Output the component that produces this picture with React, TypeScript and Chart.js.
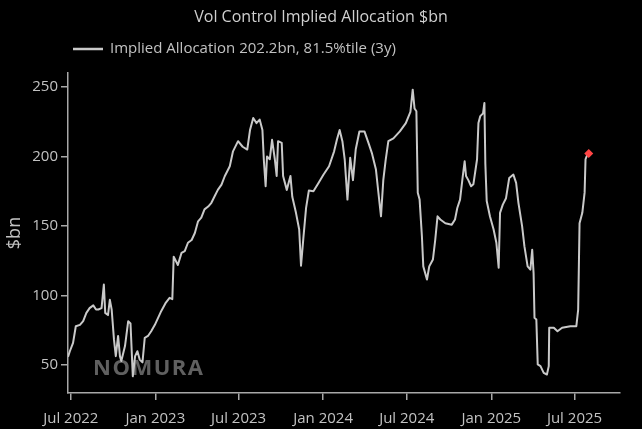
import { useEffect, useRef } from "react";
import { Chart, registerables } from "chart.js";

Chart.register(...registerables);

const chartTitle = "Vol Control Implied Allocation $bn";
const seriesLabel = "Implied Allocation 202.2bn, 81.5%tile (3y)";
const yAxisTitle = "$bn";
const watermark = "NOMURA";

const dates = [
  "2022-06-25", "2022-06-29", "2022-07-06", "2022-07-12", "2022-07-21", "2022-07-28", "2022-08-04", "2022-08-11",
  "2022-08-19", "2022-08-25", "2022-08-30", "2022-09-06", "2022-09-11", "2022-09-14", "2022-09-20", "2022-09-24",
  "2022-09-28", "2022-10-03", "2022-10-07", "2022-10-12", "2022-10-16", "2022-10-19", "2022-10-27", "2022-11-03",
  "2022-11-08", "2022-11-13", "2022-11-18", "2022-11-23", "2022-11-28", "2022-12-04", "2022-12-09", "2022-12-16",
  "2022-12-23", "2022-12-31", "2023-01-07", "2023-01-14", "2023-01-24", "2023-02-01", "2023-02-07", "2023-02-10",
  "2023-02-19", "2023-02-27", "2023-03-06", "2023-03-13", "2023-03-21", "2023-03-28", "2023-04-04", "2023-04-11",
  "2023-04-18", "2023-04-26", "2023-05-03", "2023-05-10", "2023-05-17", "2023-05-25", "2023-06-01", "2023-06-12",
  "2023-06-19", "2023-06-30", "2023-07-10", "2023-07-20", "2023-07-26", "2023-08-02", "2023-08-09", "2023-08-16",
  "2023-08-22", "2023-08-25", "2023-08-29", "2023-09-01", "2023-09-07", "2023-09-12", "2023-09-18", "2023-09-22",
  "2023-09-25", "2023-10-03", "2023-10-06", "2023-10-14", "2023-10-22", "2023-10-26", "2023-11-03", "2023-11-10",
  "2023-11-14", "2023-11-19", "2023-11-25", "2023-12-01", "2023-12-11", "2023-12-22", "2024-01-02", "2024-01-14",
  "2024-01-25", "2024-01-31", "2024-02-06", "2024-02-12", "2024-02-17", "2024-02-23", "2024-02-29", "2024-03-06",
  "2024-03-12", "2024-03-20", "2024-03-31", "2024-04-10", "2024-04-16", "2024-04-25", "2024-04-30", "2024-05-06",
  "2024-05-11", "2024-05-16", "2024-05-22", "2024-06-02", "2024-06-16", "2024-06-29", "2024-07-09", "2024-07-14",
  "2024-07-18", "2024-07-22", "2024-07-25", "2024-07-29", "2024-08-03", "2024-08-06", "2024-08-14", "2024-08-19",
  "2024-08-27", "2024-09-01", "2024-09-06", "2024-09-12", "2024-09-23", "2024-10-07", "2024-10-14", "2024-10-19",
  "2024-10-25", "2024-10-31", "2024-11-04", "2024-11-07", "2024-11-12", "2024-11-18", "2024-11-23", "2024-12-01",
  "2024-12-04", "2024-12-08", "2024-12-14", "2024-12-17", "2024-12-19", "2024-12-22", "2024-12-29", "2025-01-06",
  "2025-01-12", "2025-01-17", "2025-01-20", "2025-01-26", "2025-02-02", "2025-02-09", "2025-02-18", "2025-02-24",
  "2025-03-01", "2025-03-09", "2025-03-14", "2025-03-21", "2025-03-27", "2025-03-31", "2025-04-03", "2025-04-05",
  "2025-04-09", "2025-04-12", "2025-04-18", "2025-04-25", "2025-05-02", "2025-05-06", "2025-05-07", "2025-05-17",
  "2025-05-25", "2025-06-04", "2025-06-22", "2025-07-05", "2025-07-09", "2025-07-12", "2025-07-18", "2025-07-23",
  "2025-07-25", "2025-07-29", "2025-08-01",
];

const allocation = [
  56, 60, 66, 78, 79, 81.6, 87.6, 91,
  93, 90, 90, 91, 108, 87.6, 86, 97,
  90, 68.5, 56.5, 71, 56.5, 53, 63.7, 81.6,
  80, 42, 56.5, 60, 54, 52, 69.7, 71,
  74.4, 79, 84, 89, 95, 98.4, 97.5, 128,
  122, 130.7, 132, 138, 140, 145, 153.4, 156,
  162, 164, 166.7, 171.4, 176, 179.8, 185.8, 193,
  203.7, 211, 207, 205, 219, 227.7, 224, 226.5,
  219, 198, 178.6, 200, 198, 212, 198, 186,
  211, 209.8, 186, 176, 186, 171, 159.5, 147.5,
  121.5, 141, 163, 175.5, 175, 181, 187, 193,
  203.7, 212, 219, 211, 198, 169, 199, 183,
  205, 218, 218, 208.5, 202.6, 190.6, 175, 157,
  183, 197, 211, 213, 218, 224, 232, 248,
  234.5, 232.5, 174, 169, 142.7, 121, 111.6, 121,
  126, 140, 157, 154.7, 152, 151, 154.7, 163,
  169, 186, 196.5, 186, 183, 178.6, 180, 198,
  224, 229, 231, 238.5, 195, 168, 157, 147.5,
  138, 120, 159.5, 165.4, 170, 184.6, 187, 181,
  166.7, 150, 135.5, 121, 118.7, 133, 116, 84,
  82.8, 50.5, 49.3, 44.5, 43.3, 49.3, 76.9, 76.9,
  74.4, 76.9, 78, 78, 90, 152, 159.5, 174,
  198, 201.4, 202.2,
];

const xTickDates = ["2022-07-01", "2023-01-01", "2023-07-01", "2024-01-01", "2024-07-01", "2025-01-01", "2025-07-01"];
const xTickLabels = ["Jul 2022", "Jan 2023", "Jul 2023", "Jan 2024", "Jul 2024", "Jan 2025", "Jul 2025"];
const yTicks = [50, 100, 150, 200, 250];
const xMinDate = "2022-06-25";
const xMaxDate = "2025-10-08";
const yMin = 30;
const yMax = 260;

const toMs = (s: string) => Date.parse(s + "T00:00:00Z");

const FONT = "'Open Sans', 'Noto Sans', sans-serif";
const LINE_COLOR = "#c9c9c9";
const TEXT_COLOR = "#c2c2c2";
const AXIS_COLOR = "#a8a8a8";

const headerPlugin = {
  id: "header",
  beforeDatasetsDraw(chart: any) {
    const { ctx, chartArea } = chart;
    ctx.save();
    ctx.font = `bold 22px ${FONT}`;
    (ctx as any).letterSpacing = "1.5px";
    ctx.fillStyle = "#606060";
    ctx.textAlign = "left";
    ctx.textBaseline = "middle";
    ctx.fillText(watermark, chartArea.left + 25, chartArea.bottom - 24);
    ctx.restore();
  },
  afterDraw(chart: any) {
    const { ctx } = chart;
    ctx.save();
    ctx.fillStyle = "#cfcfcf";
    ctx.font = `16px ${FONT}`;
    ctx.textAlign = "center";
    ctx.textBaseline = "middle";
    ctx.fillText(chartTitle, chart.width / 2, 17);

    ctx.strokeStyle = LINE_COLOR;
    ctx.lineWidth = 2.5;
    ctx.beginPath();
    ctx.moveTo(73, 49);
    ctx.lineTo(103, 49);
    ctx.stroke();

    ctx.fillStyle = TEXT_COLOR;
    ctx.font = `15px ${FONT}`;
    ctx.textAlign = "left";
    ctx.fillText(seriesLabel, 110, 49);
    ctx.restore();
  },
};

export default function App() {
  const canvasRef = useRef<HTMLCanvasElement | null>(null);

  useEffect(() => {
    document.body.style.margin = "0";
    document.body.style.background = "#000";
    const canvas = canvasRef.current;
    if (!canvas) return;
    const lastIndex = allocation.length - 1;
    const chart = new Chart(canvas, {
      type: "line",
      data: {
        datasets: [
          {
            label: seriesLabel,
            data: dates.map((d, i) => ({ x: toMs(d), y: allocation[i] })),
            borderColor: LINE_COLOR,
            borderWidth: 2,
            tension: 0,
            borderJoinStyle: "round",
            pointRadius: (c: any) => (c.dataIndex === lastIndex ? 4.5 : 0),
            pointStyle: "rectRot",
            pointBackgroundColor: "#ff4545",
            pointBorderColor: "#ff4545",
            pointBorderWidth: 0,
            fill: false,
          } as any,
        ],
      },
      options: {
        responsive: false,
        animation: false,
        events: [],
        layout: { padding: { top: 73, right: 22, left: 0, bottom: 0 } },
        plugins: {
          legend: { display: false },
          title: { display: false },
          tooltip: { enabled: false },
        },
        scales: {
          x: {
            type: "linear",
            min: toMs(xMinDate),
            max: toMs(xMaxDate),
            afterBuildTicks: (s: any) => {
              s.ticks = xTickDates.map((d) => ({ value: toMs(d) }));
            },
            afterFit: (s: any) => {
              s.height = 36;
            },
            grid: {
              display: true,
              drawOnChartArea: false,
              drawTicks: true,
              tickLength: 7,
              color: AXIS_COLOR,
              lineWidth: 1.5,
            },
            border: { display: true, color: AXIS_COLOR, width: 1.5 },
            ticks: {
              autoSkip: false,
              maxRotation: 0,
              padding: 10,
              color: TEXT_COLOR,
              font: { family: FONT, size: 15 },
              callback: (v: any) => {
                const i = xTickDates.findIndex((d) => toMs(d) === v);
                return i >= 0 ? xTickLabels[i] : "";
              },
            },
          },
          y: {
            type: "linear",
            min: yMin,
            max: yMax,
            afterBuildTicks: (s: any) => {
              s.ticks = yTicks.map((v) => ({ value: v }));
            },
            afterFit: (s: any) => {
              s.width = 68;
            },
            grid: {
              display: true,
              drawOnChartArea: false,
              drawTicks: true,
              tickLength: 7,
              color: AXIS_COLOR,
              lineWidth: 1.5,
            },
            border: { display: true, color: AXIS_COLOR, width: 1.5 },
            title: {
              display: true,
              text: yAxisTitle,
              color: TEXT_COLOR,
              font: { family: FONT, size: 18 },
              padding: { top: 4, bottom: 0 },
            },
            ticks: {
              padding: 3,
              color: TEXT_COLOR,
              font: { family: FONT, size: 15 },
            },
          },
        },
      },
      plugins: [headerPlugin],
    });
    return () => chart.destroy();
  }, []);

  return (
    <div style={{ position: "fixed", left: 0, top: 0, width: 642, height: 429, background: "#000" }}>
      <canvas ref={canvasRef} width={642} height={429} style={{ display: "block", width: 642, height: 429 }} />
    </div>
  );
}
